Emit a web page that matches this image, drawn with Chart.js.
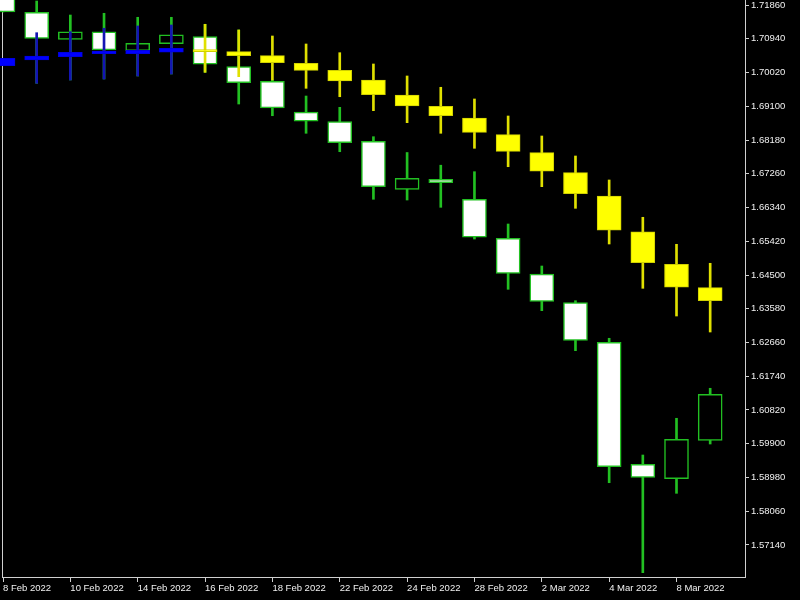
<!DOCTYPE html>
<html>
<head>
<meta charset="utf-8">
<script src="https://cdn.jsdelivr.net/npm/chart.js@4"></script>
<style>
  html, body { margin: 0; padding: 0; background: #000; }
  #wrap { width: 800px; height: 600px; }
</style>
</head>
<body>
<div id="wrap"><canvas id="chart" width="800" height="600"></canvas></div>
<script>
// one bar per trading day
const dates = ['8 Feb 2022', '9 Feb 2022', '10 Feb 2022', '11 Feb 2022', '14 Feb 2022', '15 Feb 2022',
  '16 Feb 2022', '17 Feb 2022', '18 Feb 2022', '21 Feb 2022', '22 Feb 2022', '23 Feb 2022',
  '24 Feb 2022', '25 Feb 2022', '28 Feb 2022', '1 Mar 2022', '2 Mar 2022', '3 Mar 2022',
  '4 Mar 2022', '7 Mar 2022', '8 Mar 2022', '9 Mar 2022'];

// price candles
const open  = [1.72210, 1.71661, 1.70925, 1.71132, 1.70614, 1.70805, 1.70996, 1.70178, 1.69780, 1.68943, 1.68679,
  1.68145, 1.66836, 1.67111, 1.66564, 1.65500, 1.64527, 1.63745, 1.62666, 1.59340, 1.58947, 1.59994];
const high  = [1.72260, 1.71969, 1.71587, 1.71634, 1.71525, 1.71525, 1.71334, 1.71179, 1.69816, 1.69379, 1.69071,
  1.68270, 1.67839, 1.67493, 1.67316, 1.65890, 1.64745, 1.63799, 1.62775, 1.59593, 1.60594, 1.61412];
const low   = [1.71669, 1.69726, 1.69816, 1.69843, 1.69925, 1.69979, 1.70025, 1.69161, 1.68842, 1.68363, 1.67861,
  1.66564, 1.66544, 1.66345, 1.65481, 1.64110, 1.63527, 1.62437, 1.58838, 1.56385, 1.58549, 1.59893];
const close = [1.71669, 1.70952, 1.71132, 1.70633, 1.70816, 1.71050, 1.70244, 1.69742, 1.69052, 1.68690, 1.68106,
  1.66907, 1.67136, 1.67016, 1.65528, 1.64546, 1.63783, 1.62715, 1.59274, 1.58985, 1.60021, 1.61248];

// heiken ashi overlay
const haOpen  = [1.70205, 1.70361, 1.70451, 1.70533, 1.70533, 1.70571, 1.70642, 1.70587, 1.70478, 1.70271, 1.70080,
  1.69816, 1.69407, 1.69099, 1.68780, 1.68325, 1.67834, 1.67289, 1.66654, 1.65680, 1.64792, 1.64154];
const haClose = [1.70407, 1.70470, 1.70571, 1.70606, 1.70625, 1.70680, 1.70587, 1.70478, 1.70287, 1.70080, 1.69788,
  1.69415, 1.69107, 1.68842, 1.68390, 1.67872, 1.67327, 1.66716, 1.65719, 1.64835, 1.64165, 1.63799];
const haHigh  = [1.70407, 1.71105, 1.71132, 1.71225, 1.71288, 1.71315, 1.71334, 1.71179, 1.71015, 1.70797, 1.70560,
  1.70252, 1.69925, 1.69617, 1.69298, 1.68834, 1.68289, 1.67744, 1.67090, 1.66073, 1.65337, 1.64819];
const haLow   = [1.70205, 1.69726, 1.69816, 1.69843, 1.69925, 1.69979, 1.70025, 1.69906, 1.69816, 1.69589, 1.69360,
  1.68979, 1.68652, 1.68363, 1.67954, 1.67452, 1.66907, 1.66318, 1.65345, 1.64137, 1.63382, 1.62946];

const xTickIdx = [0, 2, 4, 6, 8, 10, 12, 14, 16, 18, 20];
const yTicks = [1.57140, 1.58060, 1.58980, 1.59900, 1.60820, 1.61740, 1.62660, 1.63580, 1.64500,
  1.65420, 1.66340, 1.67260, 1.68180, 1.69100, 1.70020, 1.70940, 1.71860];

const GREEN = '#22c022';
const AXIS = '#d0d0d0';

const pairs = (a, b) => a.map((v, i) => ({ x: i, y: [v, b[i]] }));
const haBull = haOpen.map((o, i) => haClose[i] >= o);

// keep the plot area flush with the canvas edges
function noPad(s) {
  s.paddingTop = 0;
  s.paddingBottom = 0;
  s.paddingLeft = 0;
  s.paddingRight = 0;
}

Chart.defaults.font.family = "'Liberation Sans', Arial, sans-serif";
Chart.defaults.font.size = 9.5;
Chart.defaults.color = '#f0f0f0';

new Chart(document.getElementById('chart').getContext('2d'), {
  type: 'bar',
  data: {
    datasets: [
      {
        label: 'HA body',
        order: 1,
        data: pairs(haOpen, haClose),
        backgroundColor: haBull.map(b => (b ? '#0000ff' : '#ffff00')),
        borderColor: haBull.map(b => (b ? '#0000e0' : '#d0d000')),
        borderWidth: 1,
        borderSkipped: false,
        barThickness: 24,
        clip: false,
      },
      {
        label: 'HA wick',
        order: 2,
        data: pairs(haLow, haHigh),
        backgroundColor: haBull.map(b => (b ? '#1414b4' : '#e0e000')),
        borderWidth: 0,
        barThickness: 2,
      },
      {
        label: 'Body',
        order: 3,
        data: pairs(open, close),
        backgroundColor: close.map((c, i) => (c < open[i] ? '#ffffff' : '#000000')),
        borderColor: GREEN,
        borderWidth: 1.5,
        borderSkipped: false,
        barThickness: 24,
        clip: false,
      },
      {
        label: 'Wick',
        order: 4,
        data: pairs(low, high),
        backgroundColor: GREEN,
        borderWidth: 0,
        barThickness: 2,
      },
    ],
  },
  options: {
    responsive: false,
    animation: false,
    layout: { padding: { left: 2, top: 0, right: 0, bottom: 0 } },
    datasets: { bar: { grouped: false } },
    plugins: { legend: { display: false }, tooltip: { enabled: false } },
    scales: {
      x: {
        type: 'linear',
        offset: false,
        min: -0.0297,
        max: 22.034,
        afterBuildTicks: (s) => { s.ticks = xTickIdx.map(v => ({ value: v })); },
        afterFit: (s) => { s.height = 23; noPad(s); },
        ticks: {
          autoSkip: false,
          maxRotation: 0,
          align: 'start',
          padding: 1,
          callback: (v) => dates[v],
        },
        grid: { offset: false, drawOnChartArea: false, drawTicks: true, tickLength: 5, color: AXIS },
        border: { color: AXIS, width: 1 },
      },
      y: {
        position: 'right',
        min: 1.562677,
        max: 1.719963,
        afterBuildTicks: (s) => { s.ticks = yTicks.map(v => ({ value: v })); },
        afterFit: (s) => { s.width = 55; noPad(s); },
        ticks: {
          autoSkip: false,
          padding: 2,
          callback: (v) => Number(v).toFixed(5),
        },
        grid: { drawOnChartArea: false, drawTicks: true, tickLength: 4, color: AXIS },
        border: { color: AXIS, width: 1 },
      },
      yl: {
        position: 'left',
        display: true,
        ticks: { display: false },
        grid: { display: false, drawTicks: false },
        border: { color: AXIS, width: 1 },
        afterFit: (s) => { s.width = 0; noPad(s); },
      },
    },
  },
});
</script>
</body>
</html>
